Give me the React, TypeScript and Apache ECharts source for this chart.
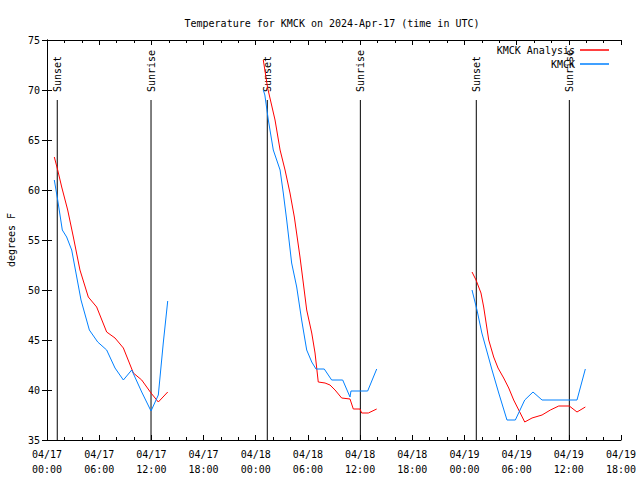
import React, { useEffect, useRef } from 'react';
import * as echarts from 'echarts';

const chartTitle = 'Temperature for KMCK on 2024-Apr-17 (time in UTC)';
const yAxisName = 'degrees F';
const xTickLabels = [
  '04/17\n00:00', '04/17\n06:00', '04/17\n12:00', '04/17\n18:00',
  '04/18\n00:00', '04/18\n06:00', '04/18\n12:00', '04/18\n18:00',
  '04/19\n00:00', '04/19\n06:00', '04/19\n12:00', '04/19\n18:00',
];
const seriesNames = ['KMCK Analysis', 'KMCK'];
const seriesColors = ['#ff0000', '#0080ff'];

// hours since 2024-04-17 00:00 UTC
const analysisHours1 = [0.84, 1.23, 1.69, 2.38, 3.03, 3.79, 4.75, 5.71, 6.86, 7.82, 8.78, 9.93, 10.89, 11.96, 12.8, 13.88];
const analysisTemps1 = [63.3, 62.0, 60.3, 58.0, 55.3, 52.0, 49.3, 48.3, 45.8, 45.2, 44.2, 41.7, 41.0, 39.7, 38.8, 39.8];
const analysisHours2 = [24.87, 25.37, 26.22, 26.8, 27.37, 27.94, 28.44, 28.78, 29.09, 29.47, 29.86, 30.44, 30.82, 31.19, 31.97, 32.54, 33.12, 33.88, 34.84, 35.22, 35.99, 36.18, 36.95, 37.91];
const analysisTemps2 = [73.0, 70.2, 67.0, 64.0, 62.0, 59.7, 57.3, 55.2, 53.3, 50.7, 48.0, 45.7, 43.7, 40.8, 40.7, 40.5, 40.0, 39.2, 39.1, 38.1, 38.1, 37.7, 37.7, 38.1];
const analysisHours3 = [48.87, 49.33, 49.9, 50.21, 50.79, 51.36, 51.86, 52.51, 53.09, 53.66, 54.24, 54.93, 55.77, 56.92, 57.88, 58.84, 60.06, 60.94, 61.9];
const analysisTemps3 = [51.8, 51.0, 49.7, 48.3, 45.0, 43.3, 42.2, 41.2, 40.2, 39.0, 38.0, 36.8, 37.2, 37.5, 38.0, 38.4, 38.4, 37.8, 38.3];

const obsHours1 = [0.84, 1.23, 1.76, 2.26, 2.84, 3.91, 4.87, 5.83, 6.86, 7.82, 8.78, 9.74, 10.89, 11.96, 12.8, 13.37, 13.88];
const obsTemps1 = [61.0, 59.0, 56.0, 55.3, 54.0, 49.0, 46.0, 44.8, 44.0, 42.2, 41.0, 42.0, 39.8, 37.9, 39.5, 44.7, 48.9];
const obsHours2 = [24.87, 25.05, 25.45, 26.02, 26.8, 27.17, 27.56, 28.13, 28.71, 29.28, 29.86, 30.44, 30.93, 31.88, 32.73, 34.0, 34.84, 34.95, 36.87, 37.91];
const obsTemps2 = [70.0, 69.5, 67.0, 64.0, 62.0, 59.7, 57.0, 52.7, 50.3, 47.0, 44.0, 42.8, 42.1, 42.1, 41.0, 41.0, 39.3, 39.9, 39.9, 42.1];
const obsHours3 = [48.87, 49.44, 50.0, 51.17, 51.94, 52.89, 53.85, 54.93, 55.88, 56.92, 60.94, 61.9];
const obsTemps3 = [50.0, 48.0, 45.7, 42.0, 39.7, 37.0, 37.0, 39.0, 39.8, 39.0, 39.0, 42.1];

const sunHours = [1.18, 11.96, 25.33, 36.03, 49.36, 60.06];
const sunLabels = ['Sunset', 'Sunrise', 'Sunset', 'Sunrise', 'Sunset', 'Sunrise'];
const sunLineTop = 69;

const FONT = '"DejaVu Sans Mono", monospace';

function buildData(segs: [number[], number[]][]) {
  const out: any[] = [];
  segs.forEach(([h, v], i) => {
    if (i > 0) out.push([h[0] - 0.01, '-']);
    h.forEach((x, j) => out.push([x, v[j]]));
  });
  return out;
}

export default function App() {
  const ref = useRef<HTMLDivElement>(null);
  useEffect(() => {
    if (!ref.current) return;
    const chart = echarts.init(ref.current, null, { renderer: 'svg' });
    const axisCommon = {
      type: 'value' as const,
      axisLine: { show: true, lineStyle: { color: '#000', width: 1 } },
      splitLine: { show: false },
    };
    chart.setOption({
      animation: false,
      backgroundColor: '#fff',
      textStyle: { fontFamily: FONT },
      title: {
        text: chartTitle,
        left: 327,
        textAlign: 'center',
        top: 13,
        textStyle: { fontFamily: FONT, fontSize: 10, fontWeight: 'normal', color: '#000' },
      },
      legend: {
        data: seriesNames,
        orient: 'vertical',
        right: 26,
        top: 38,
        align: 'right',
        icon: 'rect',
        itemWidth: 29,
        itemHeight: 1.5,
        itemGap: 0,
        textStyle: { fontFamily: FONT, fontSize: 10, color: '#000', lineHeight: 14 },
      },
      grid: { left: 47, right: 19, top: 40, bottom: 40, outerBoundsMode: 'none', containLabel: false },
      xAxis: [
        {
          ...axisCommon,
          position: 'bottom',
          min: 0, max: 66, interval: 6,
          axisTick: { show: true, inside: true, length: 5, lineStyle: { color: '#000' } },
          minorTick: { show: true, splitNumber: 3, length: 3, lineStyle: { color: '#000' } },
          axisLabel: {
            margin: 7, color: '#000', fontFamily: FONT, fontSize: 10, lineHeight: 15,
            formatter: (v: number) => xTickLabels[Math.round(v / 6)] ?? '',
          },
        },
        {
          ...axisCommon,
          position: 'top',
          min: 0, max: 66, interval: 6,
          axisTick: { show: true, inside: true, length: 5, lineStyle: { color: '#000' } },
          minorTick: { show: true, splitNumber: 3, length: 3, lineStyle: { color: '#000' } },
          axisLabel: { show: false },
        },
      ],
      yAxis: [
        {
          ...axisCommon,
          position: 'left',
          min: 35, max: 75, interval: 5,
          name: yAxisName,
          nameLocation: 'middle',
          nameRotate: 90,
          nameGap: 31,
          nameTextStyle: { fontFamily: FONT, fontSize: 10, color: '#000' },
          axisTick: { show: true, inside: true, length: 5, lineStyle: { color: '#000' } },
          axisLabel: { margin: 7, color: '#000', fontFamily: FONT, fontSize: 10 },
        },
        {
          ...axisCommon,
          position: 'right',
          min: 35, max: 75, interval: 5,
          axisTick: { show: true, inside: true, length: 5, lineStyle: { color: '#000' } },
          axisLabel: { show: false },
        },
      ],
      series: [
        {
          name: 'sun',
          type: 'custom',
          xAxisIndex: 0,
          yAxisIndex: 0,
          data: sunHours.map((h) => [h, sunLineTop]),
          encode: { x: 0, y: 1 },
          renderItem: (params: any, api: any) => {
            const t = api.value(0);
            const lo = api.coord([t, 35]);
            const hi = api.coord([t, sunLineTop]);
            return {
              type: 'group',
              children: [
                {
                  type: 'line',
                  shape: { x1: lo[0], y1: lo[1], x2: hi[0], y2: hi[1] },
                  style: { stroke: '#000', lineWidth: 1 },
                },
                {
                  type: 'text',
                  x: hi[0],
                  y: hi[1] - 8,
                  rotation: Math.PI / 2,
                  style: {
                    text: sunLabels[params.dataIndex],
                    fill: '#000',
                    font: `10px ${FONT}`,
                    align: 'left',
                    verticalAlign: 'middle',
                  },
                },
              ],
            };
          },
        },
        {
          name: seriesNames[0],
          type: 'line',
          symbol: 'none',
          color: seriesColors[0],
          lineStyle: { color: seriesColors[0], width: 1 },
          data: buildData([
            [analysisHours1, analysisTemps1],
            [analysisHours2, analysisTemps2],
            [analysisHours3, analysisTemps3],
          ]),
        },
        {
          name: seriesNames[1],
          type: 'line',
          symbol: 'none',
          color: seriesColors[1],
          lineStyle: { color: seriesColors[1], width: 1 },
          data: buildData([
            [obsHours1, obsTemps1],
            [obsHours2, obsTemps2],
            [obsHours3, obsTemps3],
          ]),
        },
      ],
    });
    return () => chart.dispose();
  }, []);
  return (
    <div
      ref={ref}
      style={{ position: 'absolute', left: 0, top: 0, width: 640, height: 480, background: '#fff' }}
    />
  );
}
